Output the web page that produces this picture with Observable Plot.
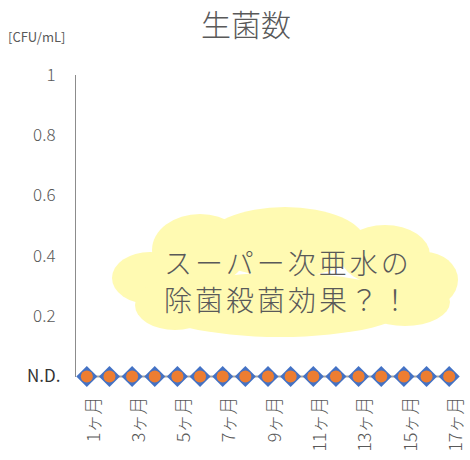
<!DOCTYPE html>
<html><head><meta charset="utf-8">
<script src="https://cdn.jsdelivr.net/npm/d3@7"></script>
<script src="https://cdn.jsdelivr.net/npm/@observablehq/plot@0.6"></script>
<style>
body{margin:0;background:#fff;overflow:hidden}
#wrap{position:relative;width:470px;height:460px;overflow:hidden;font-family:"Noto Sans CJK JP","Noto Sans",sans-serif;color:#595959}
#title{height:50px;line-height:46px;text-align:center;font-size:30px;font-weight:300;padding-left:22px;box-sizing:border-box}
#unit{position:absolute;left:8px;top:27px;font-size:13px;}
#cloud{position:absolute;left:0;top:0;pointer-events:none}
</style></head><body>
<div id="wrap">
  <div id="title">生菌数</div>
  <div id="unit">[CFU/mL]</div>
  <div id="chart"></div>
  <svg id="cloud" width="470" height="460">
    <g fill="#FFFAB2">
      <ellipse cx="150" cy="278" rx="38" ry="26"/>
      <ellipse cx="200" cy="250" rx="48" ry="36"/>
      <ellipse cx="285" cy="242" rx="80" ry="35"/>
      <ellipse cx="385" cy="255" rx="45" ry="30"/>
      <ellipse cx="425" cy="280" rx="33" ry="28"/>
      <ellipse cx="280" cy="305" rx="130" ry="32"/>
      <ellipse cx="175" cy="305" rx="40" ry="25"/>
      <ellipse cx="405" cy="302" rx="45" ry="24"/>
    </g>
    <g font-family="Noto Sans CJK JP" font-size="28" font-weight="300" fill="#595959" letter-spacing="3">
      <text x="164" y="274">スーパー次亜水の</text>
      <text x="164" y="311">除菌殺菌効果？！</text>
    </g>
  </svg>
</div>
<script>
const months = ["1ヶ月","2ヶ月","3ヶ月","4ヶ月","5ヶ月","6ヶ月","7ヶ月","8ヶ月","9ヶ月","10ヶ月","11ヶ月","12ヶ月","13ヶ月","14ヶ月","15ヶ月","16ヶ月","17ヶ月"];
const shownMonths = ["1ヶ月","3ヶ月","5ヶ月","7ヶ月","9ヶ月","11ヶ月","13ヶ月","15ヶ月","17ヶ月"];
const seriesBlue = [0,0,0,0,0,0,0,0,0,0,0,0,0,0,0,0,0];
const seriesOrange = [0,0,0,0,0,0,0,0,0,0,0,0,0,0,0,0,0];
const yTicks = [0.2,0.4,0.6,0.8,1];
const yZeroLabel = "N.D.";

const blue = months.map((m,i)=>({month:m, v:seriesBlue[i]}));
const orange = months.map((m,i)=>({month:m, v:seriesOrange[i]}));

const chart = Plot.plot({
  width: 470,
  height: 410,
  marginTop: 25,
  marginBottom: 84,
  marginLeft: 75,
  marginRight: 10,
  style: {fontFamily: '"Noto Sans CJK JP", sans-serif', color: "#595959", background: "transparent"},
  x: {type: "band", domain: months, padding: 0, round: false, label: null},
  y: {domain: [0, 1], label: null},
  marks: [
    Plot.frame({anchor: "left", stroke: "#8c8c8c"}),
    Plot.axisY({ticks: yTicks, tickSize: 0, tickPadding: 20, fontSize: 17, fontWeight: 300, fill: "#595959", label: null, tickFormat: d => d3.format("")(d)}),
    Plot.axisY({ticks: [0], tickSize: 0, tickPadding: 15, fontSize: 17, fontWeight: 400, fill: "#333333", label: null, tickFormat: () => yZeroLabel}),
    Plot.axisX({ticks: shownMonths, tickSize: 0, tickPadding: 20, tickRotate: -90, fontSize: 18, fontWeight: 300, fill: "#595959", label: null, dx: 7}),
    Plot.lineY(blue, {x: "month", y: "v", stroke: "#a5a5a5", strokeWidth: 2}),
    Plot.dot(blue, {x: "month", y: "v", symbol: "diamond2", r: 9.5, fill: "#4472C4", stroke: "none"}),
    Plot.dot(orange, {x: "month", y: "v", r: 6, fill: "#ED7D31", stroke: "none"})
  ]
});
document.getElementById("chart").appendChild(chart);
</script>
</body></html>
